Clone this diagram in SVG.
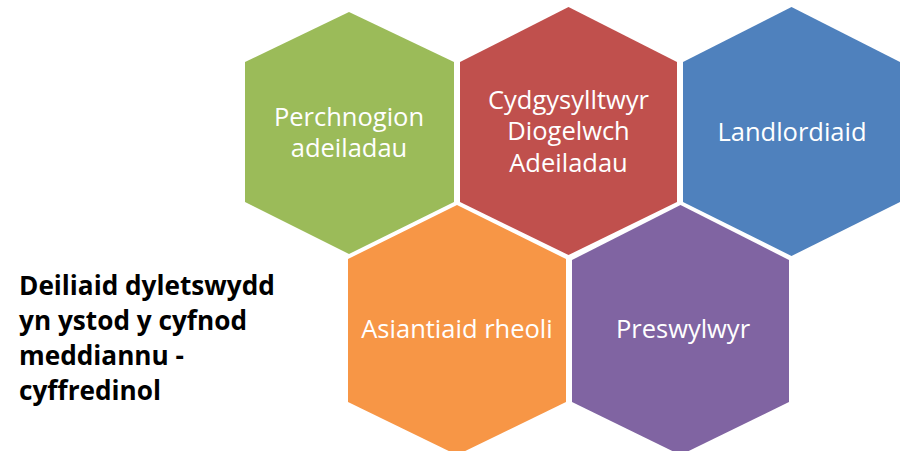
<svg xmlns="http://www.w3.org/2000/svg" width="903" height="451" viewBox="0 0 903 451">
  <style>
    .lbl { font-family: "Open Sans", "Noto Sans", "Liberation Sans", sans-serif; font-size: 25.5px; fill: #ffffff; text-anchor: middle; }
    .title { font-family: "Open Sans", "Noto Sans", "Liberation Sans", sans-serif; font-size: 26.2px; font-weight: bold; fill: #000000; }
  </style>
  <rect x="0" y="0" width="903" height="451" fill="#ffffff"/>
  <g id="title">
    <text class="title" x="19" y="295">Deiliaid dyletswydd</text>
    <text class="title" x="19" y="330">yn ystod y cyfnod</text>
    <text class="title" x="19" y="365">meddiannu -</text>
    <text class="title" x="19" y="400">cyffredinol</text>
  </g>
  <g id="connectors"></g>
  <g id="node-perchnogion">
    <polygon points="349,12 454,62 454,202 349,254 245,202 245,62" fill="#9BBB59"/>
    <text class="lbl" x="349" y="126">Perchnogion</text>
    <text class="lbl" x="349" y="157">adeiladau</text>
  </g>
  <g id="node-cydgysylltwyr">
    <polygon points="568.5,7 677,62 677,202 568.5,255 460,202 460,62" fill="#C0504D"/>
    <text class="lbl" x="568.5" y="109">Cydgysylltwyr</text>
    <text class="lbl" x="568.5" y="140">Diogelwch</text>
    <text class="lbl" x="568.5" y="172">Adeiladau</text>
  </g>
  <g id="node-landlordiaid">
    <polygon points="791.5,7 900,62 900,202 791.5,256 683,202 683,62" fill="#4F81BD"/>
    <text class="lbl" x="792" y="141">Landlordiaid</text>
  </g>
  <g id="node-asiantiaid">
    <polygon points="457,205 566,259 566,402 457,455 348,402 348,259" fill="#F79646"/>
    <text class="lbl" x="457" y="338">Asiantiaid rheoli</text>
  </g>
  <g id="node-preswylwyr">
    <polygon points="680.5,205 789,260 789,402 680.5,455 572,402 572,260" fill="#8064A2"/>
    <text class="lbl" x="683" y="338">Preswylwyr</text>
  </g>
</svg>
